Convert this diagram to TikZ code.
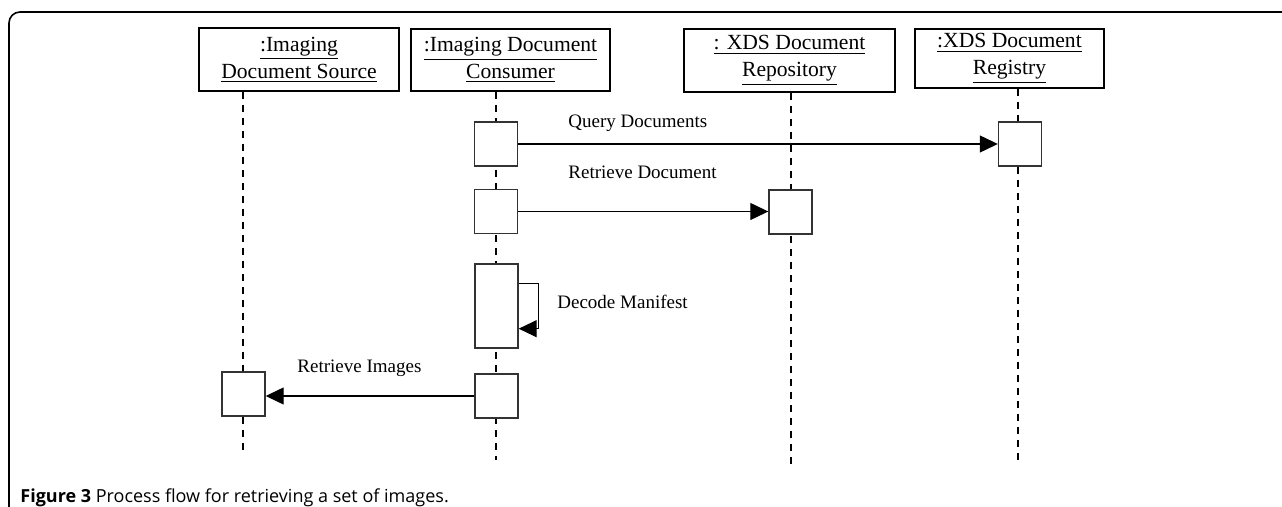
\documentclass[tikz,border=0pt]{standalone}
\usepackage{fontspec}
\setmainfont{Liberation Serif}
\newfontfamily\capfont{Open Sans}
\usetikzlibrary{arrows.meta}

\begin{document}
\begin{tikzpicture}[x=0.5pt,y=-0.5pt,
  head/.style={draw, line width=0.8pt, align=center, inner sep=0pt, font=\fontsize{10.8}{13.5}\selectfont},
  act/.style={draw=black!80, fill=white, line width=0.7pt, minimum width=21.5pt, minimum height=22pt, inner sep=0pt},
  life/.style={line width=1pt, dash pattern=on 3.5pt off 3pt},
  msg/.style={line width=0.6pt, -{Triangle[length=9pt,width=8.5pt]}},
  lbl/.style={anchor=west, inner sep=0pt, font=\fontsize{9.5}{11}\selectfont}]
\useasboundingbox (0,0) rectangle (1282,507);
% frame
\draw[line width=0.8pt, rounded corners=5.5pt] (9,507) -- (9,12) -- (1282,12);
% objects
\node[head, minimum width=100pt, minimum height=31.5pt] (src) at (299,59.5) {\underline{:Imaging}\\\underline{Document Source}};
\node[head, minimum width=99.5pt, minimum height=31pt] (con) at (510.5,60) {\underline{:Imaging Document}\\\underline{Consumer}};
\node[head, minimum width=105.5pt, minimum height=31.5pt] (rep) at (789.5,60.5) {\underline{: XDS Document}\\\underline{Repository}};
\node[head, minimum width=94.5pt, minimum height=29.5pt] (reg) at (1009.5,58.5) {\underline{:XDS Document}\\\underline{Registry}};
% lifelines
\coordinate (srcend) at (243,455);
\coordinate (conend) at (496,460);
\coordinate (repend) at (791,465);
\coordinate (regend) at (1018,465);
\draw[life] (src.south -| srcend) -- (srcend);
\draw[life] (con.south -| conend) -- (conend);
\draw[life] (rep.south -| repend) -- (repend);
\draw[life] (reg.south -| regend) -- (regend);
% activations
\node[act] (qc) at (496,144) {};
\node[act] (qr) at (1020,144) {};
\node[act] (dc) at (496,211.5) {};
\node[act] (dr) at (790.5,212) {};
\node[act, minimum height=42pt] (mc) at (496.5,306) {};
\node[act] (ic) at (496.5,396) {};
\node[act] (is) at (243.5,394) {};
% messages
\draw[msg] (qc.east) -- (qr.west);
\node[lbl] (ql) at (568,123) {Query Documents};
\draw[msg] (dc.east) -- (dc.east -| dr.west);
\node[lbl] (dl) at (568,172) {Retrieve Document};
\draw[msg] ([yshift=-10pt]mc.north east) -- ++(20,0) |- ([yshift=10pt]mc.south east);
\node[lbl] (ml) at (557,302) {Decode Manifest};
\draw[msg] (ic.west) -- (ic.west -| is.east);
\node[lbl] (il) at (297,368) {Retrieve Images};
% caption
\node[anchor=base west, inner sep=0pt, font=\capfont\fontsize{9}{11}\selectfont] (cap) at (20,503) {\textbf{Figure 3} Process flow for retrieving a set of images.};
\end{tikzpicture}
\end{document}
